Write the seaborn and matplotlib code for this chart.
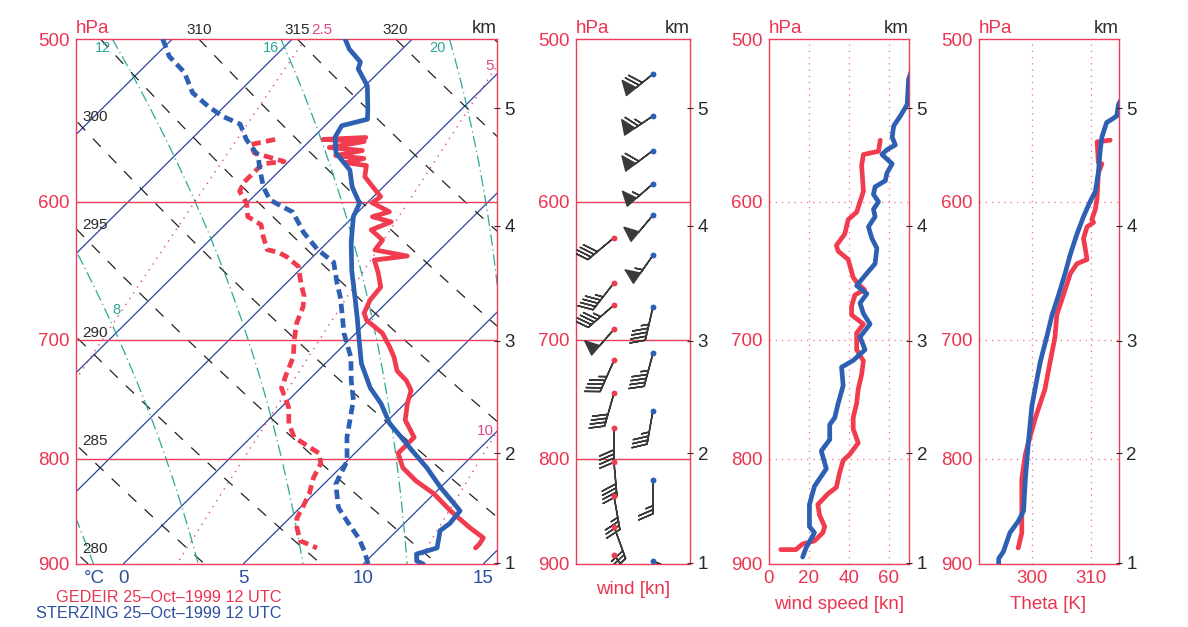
import numpy as np
import pandas as pd
import matplotlib
matplotlib.use("Agg")
import matplotlib.pyplot as plt
import matplotlib.transforms as mtransforms
from matplotlib.ticker import FixedLocator, NullLocator, FixedFormatter
import seaborn as sns

# ---------------- data ----------------
# GEDEIR temperature (hPa, degC)
ged_t_p = [558.3, 559.5, 560.8, 564.6, 566.5, 569.7, 571.6, 574.2, 576.1, 583.3, 588.6,
           596.5, 600.6, 606.7, 610.1, 613.6, 619.1, 626.2, 633.2, 637.5, 640.4, 649.7,
           660.1, 669.8, 679.6, 685, 695, 706, 714, 725, 733, 741, 752, 766, 781, 790,
           795, 808, 820, 832, 848, 864, 874, 880, 884]
ged_t = [-7.8, -9.5, -7.7, -8.9, -7.4, -8.3, -7.0, -7.6, -6.6, -6.2, -5.6,
         -4.7, -4.8, -3.7, -4.2, -3.2, -3.7, -2.8, -2.7, -1.1, -2.3, -1.6,
         -0.9, -0.8, -0.5, -0.1, 1.1, 2.0, 2.6, 3.3, 4.1, 4.7, 5.1, 5.7, 6.8, 6.8,
         6.8, 7.6, 8.7, 10.0, 11.4, 12.9, 13.9, 14.0, 14.0]
# GEDEIR dew point
ged_td_p = [559.5, 562.7, 568, 573.5, 575, 587, 593, 601, 610, 615.6, 624, 633, 635,
            638, 645, 657, 667, 675, 687, 700, 714, 727, 739, 755, 769, 781, 790, 795,
            804, 817, 832, 845, 854.6, 864, 877, 884]
ged_td = [-11.5, -12.3, -11.8, -10.2, -11.0, -11.0, -10.8, -10.0, -9.4, -8.5, -7.9, -7.2,
          -6.6, -6.1, -5.2, -4.4, -3.7, -3.3, -2.9, -2.3, -1.6, -1.2, -0.8, 0.3, 1.0,
          1.8, 2.9, 3.5, 4.0, 4.3, 4.8, 5.1, 5.3, 5.7, 6.4, 7.4]
# STERZING temperature
ste_t_p = [500, 505.7, 513, 517, 527, 541, 547, 551, 558, 568, 579, 590, 601, 610, 628,
           648, 670, 683, 700, 719, 739, 752, 769, 778, 793, 808, 826, 848, 860, 867,
           884, 890, 897, 900]
ste_t = [-12.8, -12.2, -11.2, -11.0, -9.9, -8.9, -8.5, -9.3, -9.1, -8.4, -7.1, -6.3,
         -5.3, -5.0, -4.0, -2.8, -1.4, -0.6, 0.4, 1.5, 2.9, 4.0, 5.2, 6.0, 7.3, 8.6,
         10.0, 11.8, 11.9, 11.8, 12.4, 11.8, 12.1, 12.5]
# STERZING dew point
ste_td_p = [500, 509.8, 519, 531, 539, 545, 550, 559.5, 570, 577, 590, 598.5, 602, 607,
            621, 633, 642, 657, 667, 675, 695, 714, 733, 749, 766, 781, 802, 823, 845,
            857.5, 874, 887, 900]
ste_td = [-20.4, -19.4, -18.1, -16.9, -15.7, -14.7, -13.6, -12.7, -11.5, -11.0, -10.0,
          -9.2, -8.6, -7.7, -6.4, -5.1, -3.9, -2.9, -2.2, -1.7, -0.5, 0.8, 1.8, 2.7,
          3.4, 4.0, 5.0, 5.5, 6.6, 7.5, 8.7, 9.5, 10.2]

# wind speed profiles (hPa, kn)
ged_ws_p = [560, 567, 569, 576, 593, 607, 612, 622, 630, 634, 640, 653, 658, 662, 666,
            674.5, 681, 688, 695, 708, 717, 728, 740, 752, 764, 773.6, 786, 796, 801.5,
            812, 826, 832, 842, 852, 863, 869, 877, 880, 885.6, 885.6]
ged_ws = [55.7, 54.8, 47.3, 46.4, 47.3, 43.9, 39.7, 38.0, 33.8, 34.7, 39.7, 42.2, 44.7,
          47.8, 43.0, 41.4, 41.4, 47.3, 43.9, 43.9, 47.3, 46.4, 44.7, 43.9, 42.2, 42.2,
          44.7, 40.5, 37.2, 35.5, 33.8, 29.6, 24.6, 25.4, 28.0, 27.1, 22.9, 17.0, 13.7, 6.1]
ste_ws_p = [512, 523, 538, 545, 551, 558, 563, 566, 569, 575, 581, 586, 590, 595, 600,
            605, 610, 617, 625, 632, 643, 650, 656, 659, 665, 672, 680, 688, 698, 708,
            716.6, 722, 737, 752, 764, 770, 783, 793, 809, 825, 842, 863, 869, 884, 893]
ste_ws = [73.0, 69.8, 69.1, 65.7, 62.4, 61.6, 63.2, 59.0, 56.5, 61.6, 59.0, 58.2, 53.1,
          52.3, 54.8, 52.3, 53.1, 49.8, 51.5, 54.0, 53.1, 49.0, 45.6, 43.9, 49.0, 45.6,
          47.3, 50.6, 45.6, 48.1, 42.2, 36.4, 37.2, 34.7, 33.0, 30.5, 30.5, 26.3, 28.8,
          22.9, 20.4, 20.4, 22.9, 18.7, 17.0]

# potential temperature profiles (hPa, K)
ged_th_p = [560, 561, 574, 575, 581, 597, 605, 612, 614, 617, 625, 640, 643, 650, 666,
            681, 698, 717, 740, 752, 764, 786, 796, 818, 845, 869, 884]
ged_th = [313.2, 311.0, 311.2, 311.8, 311.2, 311.0, 310.7, 310.1, 310.4, 309.3, 308.7,
          309.3, 307.6, 306.5, 305.3, 304.2, 303.9, 303.1, 302.2, 301.4, 300.6, 299.4,
          298.9, 298.3, 298.3, 298.3, 297.7]
ste_th_p = [532, 538, 545, 547, 549, 558, 567, 581, 593, 600, 610, 622, 636, 650, 666,
            681, 698, 718, 733, 754, 786, 818, 848, 858, 869, 887.6, 894.5, 905]
ste_th = [315.5, 314.6, 314.3, 313.5, 312.6, 311.8, 311.5, 311.2, 310.7, 309.8, 308.7,
          307.6, 306.5, 305.6, 304.5, 303.4, 302.5, 301.4, 300.8, 300.0, 299.4, 298.9,
          298.6, 297.7, 296.3, 295.2, 294.4, 294.4]

# wind barbs (hPa, direction deg, speed kn)
ged_barb_p = [624.6, 657, 673.5, 692, 716.6, 743.5, 773, 803, 834, 863, 891]
ged_barb_dir = [230, 218, 229, 221, 204, 196, 180, 175, 170, 160, 143]
ged_barb_spd = [40, 45, 45, 50, 45, 40, 40, 40, 35, 30, 15]
ste_barb_p = [520, 545, 566.5, 588, 609, 637, 675, 711, 758, 819, 897]
ste_barb_dir = [231, 236, 233, 229, 220, 215, 193, 195, 190, 180, 113]
ste_barb_spd = [70, 65, 60, 55, 50, 55, 45, 45, 35, 25, 15]

p_ticks = [500, 600, 700, 800, 900]
p_labels = ["500", "600", "700", "800", "900"]
km_p = [898.8, 795.0, 701.1, 616.4, 540.2]
km_labels = ["1", "2", "3", "4", "5"]
t_ticks = [0, 5, 10, 15]
isotherms = list(range(-40, 45, 5))
dry_thetas = list(range(265, 345, 5))
moist_thetaw = [0, 4, 8, 12, 16, 20, 24, 28]
mix_ratios = [1.0, 2.5, 5.0, 10.0, 20.0]

# ---------------- style ----------------
sns.set_theme(style="white")
plt.rcParams["font.family"] = ["Liberation Sans", "DejaVu Sans"]
plt.rcParams["axes.unicode_minus"] = False

RED = "#f03c4e"
BLUE = "#2d60b2"
FRAME = "#ee3d58"
TXT_RED = "#ec3450"
TXT_BLUE = "#2c4f9e"
GRAY = "#2a2a2a"
ISO = "#2b45a0"
MOIST = "#2aa898"
MIX = "#e0478a"
GRID = "#ef6f8c"

W, H = 1188, 627


def box(l, r, t=39, b=564):
    return [l / W, 1 - b / H, (r - l) / W, (b - t) / H]


fig = plt.figure(figsize=(W / 100, H / 100), dpi=100)
ax1 = fig.add_axes(box(76, 497))
ax2 = fig.add_axes(box(576, 690))
ax3 = fig.add_axes(box(768.5, 909))
ax4 = fig.add_axes(box(978.5, 1118.5))

K = 37.5  # skew factor
XMIN, XMAX = -1.97, 15.57


def skew(t, p):
    return np.asarray(t) + K * np.log(900.0 / np.asarray(p))


def profile(ax, x, p, color, **kw):
    df = pd.DataFrame({"x": x, "p": p})
    sns.lineplot(data=df, x="x", y="p", sort=False, estimator=None, orient="y",
                 color=color, ax=ax, **kw)


def pressure_axis(ax):
    ax.set_yscale("log")
    ax.set_ylim(900, 500)
    ax.yaxis.set_major_locator(FixedLocator(p_ticks))
    ax.yaxis.set_minor_locator(NullLocator())
    ax.yaxis.set_major_formatter(FixedFormatter(p_labels))
    ax.tick_params(axis="y", length=0, pad=4.5, labelsize=13.5, labelcolor=TXT_RED)
    ax.set_ylabel("")
    ax.set_xlabel("")
    for s in ax.spines.values():
        s.set_color(FRAME)
        s.set_linewidth(1.0)
    ax.text(0.0, 1.004, "hPa", transform=ax.transAxes, ha="left", va="bottom",
            color=TXT_RED, fontsize=13.5)
    ax.text(1.0, 1.004, "km", transform=ax.transAxes, ha="right", va="bottom",
            color=GRAY, fontsize=13.5)
    tw = ax.twinx()
    tw.set_yscale("log")
    tw.set_ylim(900, 500)
    tw.yaxis.set_major_locator(FixedLocator(km_p))
    tw.yaxis.set_minor_locator(NullLocator())
    tw.yaxis.set_major_formatter(FixedFormatter(km_labels))
    tw.tick_params(axis="y", direction="inout", length=5, width=0.8, color=GRAY, pad=3,
                   labelsize=13.5, labelcolor=GRAY)
    for s in tw.spines.values():
        s.set_visible(False)
    tw.grid(False)


# ---------------- skew-T background ----------------
pg = np.geomspace(500, 900, 150)

for t0 in isotherms:
    ax1.plot(skew(t0, pg), pg, color=ISO, lw=0.9, zorder=1)

for th in dry_thetas:
    tk = th * (pg / 1000.0) ** 0.286 - 273.15
    ax1.plot(skew(tk, pg), pg, color="#222222", lw=0.9, ls=(0, (9, 9)), zorder=1)


def dTdp(T, p):
    es = 6.112 * np.exp(17.67 * (T - 273.15) / (T - 29.65))
    rs = 0.622 * es / (p - es)
    num = 287.04 * T + 2.501e6 * rs
    den = 1005.7 + 2.501e6 ** 2 * rs * 0.622 / (287.04 * T ** 2)
    return num / den / p


def moist_line(thw):
    ps = np.linspace(1000, 490, 1021)
    T = thw + 273.15
    out = [T]
    for i in range(1, len(ps)):
        dp = ps[i] - ps[i - 1]
        k1 = dTdp(T, ps[i - 1])
        k2 = dTdp(T + k1 * dp, ps[i])
        T = T + 0.5 * (k1 + k2) * dp
        out.append(T)
    return np.interp(pg, ps[::-1], np.array(out)[::-1]) - 273.15


moist_x = {}
for thw in moist_thetaw:
    moist_x[thw] = skew(moist_line(thw), pg)
    ax1.plot(moist_x[thw], pg, color=MOIST, lw=0.9, ls=(0, (9, 3, 1, 3)), zorder=1)


def mix_td(w, p):
    e = w * p / (622.0 + w)
    a = np.log(e / 6.112)
    return 243.5 * a / (17.67 - a)


mix_x = {}
for w in mix_ratios:
    mix_x[w] = skew(mix_td(w, pg), pg)
    ax1.plot(mix_x[w], pg, color=MIX, lw=1.0, ls=(0, (1, 4)), zorder=1)

for p in [600, 700, 800]:
    ax1.axhline(p, color=FRAME, lw=1.0, zorder=1.5)
    ax2.axhline(p, color=FRAME, lw=1.0, zorder=1.5)

# labels on the diagram
top = mtransforms.blended_transform_factory(ax1.transData, ax1.transAxes)
for th in [310, 315, 320]:
    xc = th * 0.5 ** 0.286 - 273.15 + K * np.log(900 / 500.0)
    ax1.text(xc, 1.004, str(th), transform=top, ha="center", va="bottom",
             color=GRAY, fontsize=11)
for th in [280, 285, 290, 295, 300]:
    tk = th * (pg / 1000.0) ** 0.286 - 273.15
    pc = np.interp(XMIN, skew(tk, pg), pg)
    ax1.text(XMIN + 0.25, pc, str(th), ha="left", va="baseline", color=GRAY,
             fontsize=11, zorder=2)
for thw in [12, 16, 20]:
    xc = np.interp(505, pg, moist_x[thw])
    ax1.text(xc - 0.25, 505, str(thw), ha="right", va="center", color=MOIST,
             fontsize=10.5, zorder=2)
xc = np.interp(677, pg, moist_x[8])
ax1.text(xc + 0.3, 677, "8", ha="left", va="center", color=MOIST, fontsize=10.5, zorder=2)
xc = np.interp(500, pg, mix_x[2.5])
ax1.text(xc + 0.25, 1.004, "2.5", transform=top, ha="left", va="bottom", color=MIX,
         fontsize=11)
for w, lab in [(5.0, "5"), (10.0, "10")]:
    pc = np.interp(XMAX, mix_x[w][::-1], pg[::-1])
    ax1.text(XMAX - 0.15, pc, lab, ha="right", va="center", color=MIX, fontsize=11,
             zorder=2)

# ---------------- soundings ----------------
dash = (0, (2.0, 1.1))
profile(ax1, skew(ged_td, ged_td_p), ged_td_p, RED, lw=3.4, ls=dash, zorder=3)
profile(ax1, skew(ste_td, ste_td_p), ste_td_p, BLUE, lw=3.4, ls=dash, zorder=3)
profile(ax1, skew(ged_t, ged_t_p), ged_t_p, RED, lw=3.4, zorder=3)
profile(ax1, skew(ste_t, ste_t_p), ste_t_p, BLUE, lw=3.4, zorder=3)

ax1.set_xlim(XMIN, XMAX)
ax1.xaxis.set_major_locator(FixedLocator([-1.22] + t_ticks))
ax1.xaxis.set_major_formatter(FixedFormatter(["°C"] + [str(t) for t in t_ticks]))
ax1.tick_params(axis="x", length=0, pad=4, labelsize=13.5, labelcolor=TXT_BLUE)
pressure_axis(ax1)

fig.text(282 / W, 1 - 597 / H, "GEDEIR 25–Oct–1999 12 UTC", ha="right", va="center",
         color=TXT_RED, fontsize=11.7)
fig.text(282 / W, 1 - 613 / H, "STERZING 25–Oct–1999 12 UTC", ha="right", va="center",
         color=TXT_BLUE, fontsize=11.7)

# ---------------- wind barbs ----------------
def uv(d, s):
    r = np.deg2rad(np.asarray(d, float))
    s = np.asarray(s, float)
    return -s * np.sin(r), -s * np.cos(r)


barb_sizes = dict(spacing=0.12, height=0.42, width=0.36, emptybarb=0.08)
for col, bp, bd, bs, c in [(0.333, ged_barb_p, ged_barb_dir, ged_barb_spd, RED),
                           (0.675, ste_barb_p, ste_barb_dir, ste_barb_spd, BLUE)]:
    u, v = uv(bd, bs)
    xx = np.full(len(bp), col)
    ax2.barbs(xx, bp, u, v, length=7.0, pivot="tip", color="#3a3a3a", linewidth=1.1,
              sizes=barb_sizes, zorder=3)
    sns.scatterplot(x=xx, y=bp, color=c, s=18, linewidth=0, zorder=4, ax=ax2)
ax2.set_xlim(0, 1)
ax2.set_xticks([])
pressure_axis(ax2)
ax2.text(0.5, -0.048, "wind [kn]", transform=ax2.transAxes, ha="center", va="center",
         color=TXT_RED, fontsize=13.5)

# ---------------- wind speed ----------------
for x in [20, 40, 60]:
    ax3.axvline(x, color=GRID, lw=0.9, ls=(0, (1, 4)), zorder=1)
for p in [600, 700, 800]:
    ax3.axhline(p, color=GRID, lw=0.9, ls=(0, (1, 4)), zorder=1)
profile(ax3, ged_ws, ged_ws_p, RED, lw=3.4, zorder=3)
profile(ax3, ste_ws, ste_ws_p, BLUE, lw=3.4, zorder=3)
ax3.set_xlim(0, 70)
ax3.xaxis.set_major_locator(FixedLocator([0, 20, 40, 60]))
ax3.tick_params(axis="x", length=0, pad=4, labelsize=13.5, labelcolor=TXT_RED)
pressure_axis(ax3)
ax3.text(0.5, -0.078, "wind speed [kn]", transform=ax3.transAxes, ha="center",
         va="center", color=TXT_RED, fontsize=13.5)

# ---------------- theta ----------------
for x in [300, 310]:
    ax4.axvline(x, color=GRID, lw=0.9, ls=(0, (1, 4)), zorder=1)
for p in [600, 700, 800]:
    ax4.axhline(p, color=GRID, lw=0.9, ls=(0, (1, 4)), zorder=1)
profile(ax4, ged_th, ged_th_p, RED, lw=3.4, zorder=3)
profile(ax4, ste_th, ste_th_p, BLUE, lw=3.4, zorder=3)
ax4.set_xlim(291.0, 314.6)
ax4.xaxis.set_major_locator(FixedLocator([300, 310]))
ax4.tick_params(axis="x", length=0, pad=4, labelsize=13.5, labelcolor=TXT_RED)
pressure_axis(ax4)
ax4.text(0.5, -0.078, "Theta [K]", transform=ax4.transAxes, ha="center", va="center",
         color=TXT_RED, fontsize=13.5)

fig.savefig("out.png", dpi=100)
